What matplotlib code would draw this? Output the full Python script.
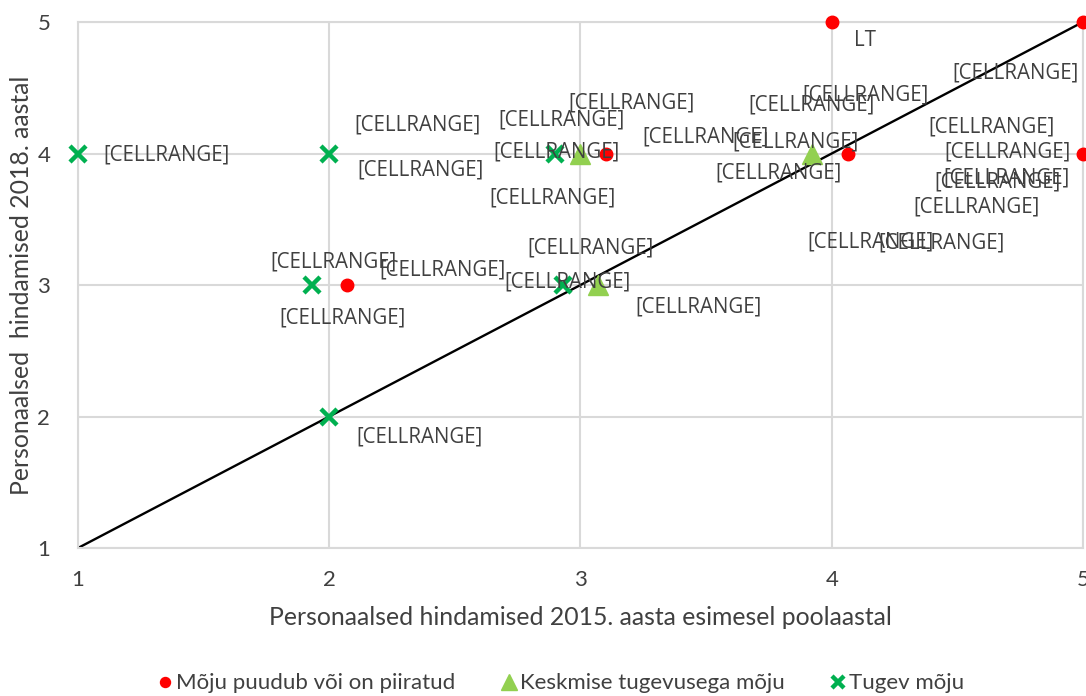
import matplotlib
matplotlib.use("Agg")
import numpy as np
from matplotlib import pyplot as plt

# series: (2015 first half, 2018)
x_red = [4.0, 5.0, 4.065, 5.0, 3.10, 2.07]
y_red = [5, 5, 4, 4, 4, 3]
x_tri = [3.0, 3.92, 3.07]
y_tri = [4, 4, 3]
x_cross = [1.0, 2.0, 2.90, 1.93, 2.93, 2.0]
y_cross = [4, 4, 4, 3, 3, 2]

# data label positions (data coordinates)
lab_x = [1.354, 2.353, 2.365, 2.019, 2.449, 2.051, 2.926, 2.906, 2.887, 3.205,
         3.038, 2.950, 3.468, 3.496, 3.921, 4.136, 3.854, 3.790, 4.733, 4.634,
         4.701, 4.694, 4.658, 4.578, 4.156, 4.435, 2.361]
lab_y = [3.989, 4.217, 3.875, 3.175, 3.114, 2.749, 4.255, 4.011, 3.662, 4.384,
         3.281, 3.023, 2.833, 4.125, 4.369, 4.445, 4.087, 3.852, 4.612, 4.202,
         4.011, 3.814, 3.783, 3.593, 3.327, 3.319, 1.844]
lt_x, lt_y = 4.132, 4.863

legend_names = ["Mõju puudub või on piiratud", "Keskmise tugevusega mõju", "Tugev mõju"]

fig = plt.figure(figsize=(10.86, 6.96), dpi=100)
ax = fig.add_axes([0.0718, 0.2126, 0.9254, 0.7558])

gray = "#d9d9d9"
txt = "#404040"

ax.plot([1, 5], [1, 5], color="black", linewidth=1.7, zorder=2)
ax.plot(x_red, y_red, "o", color="#ff0000", markersize=9, linestyle="none",
        clip_on=False, zorder=3, label=legend_names[0])
ax.plot(x_tri, y_tri, "^", color="#92d050", markersize=14, linestyle="none",
        clip_on=False, zorder=3, label=legend_names[1])
ax.plot(x_cross, y_cross, "x", color="#00b050", markersize=11, mew=3.2,
        linestyle="none", clip_on=False, zorder=3, label=legend_names[2])

for lx, ly in zip(lab_x, lab_y):
    ax.text(lx, ly, "[CELLRANGE]", ha="center", va="center", fontsize=14.8,
            family="Open Sans", color=txt, zorder=4, clip_on=False)
ax.text(lt_x, lt_y, "LT", ha="center", va="center", fontsize=14.8,
        family="Open Sans", color=txt, zorder=4)

ax.set_xlim(1, 5)
ax.set_ylim(1, 5)
ax.set_xticks([1, 2, 3, 4, 5])
ax.set_yticks([1, 2, 3, 4, 5])
ax.grid(True, color=gray, linewidth=1.5, zorder=0)
ax.set_axisbelow(True)
for s in ax.spines.values():
    s.set_color(gray)
    s.set_linewidth(1.5)
ax.tick_params(length=0, labelsize=16, labelcolor=txt)
ax.tick_params(axis="x", pad=16)
ax.tick_params(axis="y", pad=20)
for t in ax.get_xticklabels() + ax.get_yticklabels():
    t.set_family("Lato")

ax.set_xlabel("Personaalsed hindamised 2015. aasta esimesel poolaastal",
              fontsize=17.8, color=txt, family="Lato", va="center")
ax.set_ylabel("Personaalsed  hindamised 2018. aastal",
              fontsize=17.8, color=txt, family="Lato", va="center")
ax.xaxis.set_label_coords(0.5, -0.133)
ax.yaxis.set_label_coords(-0.0557, 0.5)

fig.legend(loc="center", bbox_to_anchor=(0.515, 0.018), ncol=3,
           frameon=False, prop={"family": "Lato", "size": 16},
           labelcolor=txt, handletextpad=0.0, columnspacing=1.9,
           markerscale=0.8, handlelength=1.0)

fig.savefig("out.png", dpi=100)
